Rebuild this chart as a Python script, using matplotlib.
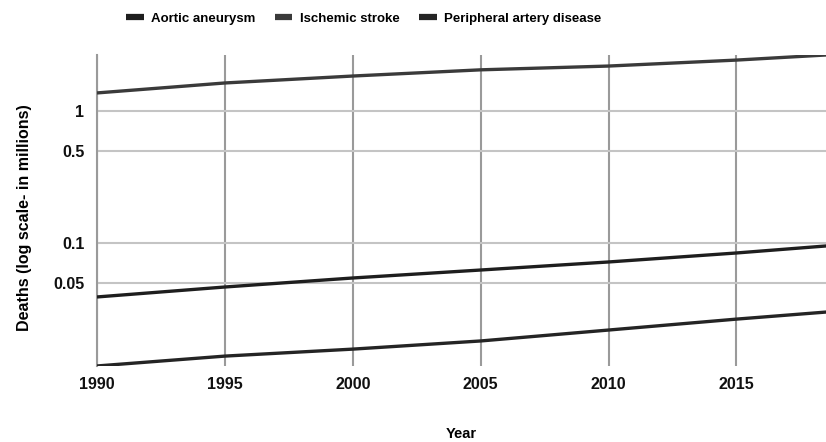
import numpy as np
import matplotlib.pyplot as plt
from matplotlib.ticker import FixedLocator, FixedFormatter, NullLocator

plt.rcParams['font.family'] = ['Liberation Sans', 'DejaVu Sans']

# deaths in millions
years = [1990, 1995, 2000, 2005, 2010, 2015, 2019]
aortic_aneurysm = [0.039, 0.0464, 0.0543, 0.0624, 0.0718, 0.084, 0.0966]
ischemic_stroke = [1.37, 1.63, 1.84, 2.05, 2.19, 2.43, 2.69]
peripheral_artery = [0.0117, 0.0139, 0.0157, 0.0181, 0.0219, 0.0265, 0.0305]

series_names = ['Aortic aneurysm', 'Ischemic stroke', 'Peripheral artery disease']
series_values = [aortic_aneurysm, ischemic_stroke, peripheral_artery]
series_colors = ['#1e1e1e', '#3a3a3a', '#242424']

x_ticks = [1990, 1995, 2000, 2005, 2010, 2015]
y_ticks = [0.05, 0.1, 0.5, 1]
y_tick_labels = ['0.05', '0.1', '0.5', '1']

fig = plt.figure(figsize=(8.26, 4.42), dpi=100)
ax = fig.add_axes([0.1174, 0.172, 0.8826, 0.7036])

for name, vals, col in zip(series_names, series_values, series_colors):
    ax.plot(years, vals, color=col, lw=2.4, label=name, solid_capstyle='butt', zorder=3)

ax.set_yscale('log')
ax.set_xlim(1990, 2018.5)
ax.set_ylim(0.0117, 2.656)

ax.xaxis.set_major_locator(FixedLocator(x_ticks))
ax.yaxis.set_major_locator(FixedLocator(y_ticks))
ax.yaxis.set_major_formatter(FixedFormatter(y_tick_labels))
ax.yaxis.set_minor_locator(NullLocator())

ax.grid(True, axis='x', color='#9a9a9a', lw=1.5)
ax.grid(True, axis='y', color='#c4c4c4', lw=1.5)
ax.set_axisbelow(True)

for s in ['top', 'right', 'bottom']:
    ax.spines[s].set_visible(False)
ax.spines['left'].set_color('#9a9a9a')
ax.spines['left'].set_linewidth(1.5)

ax.tick_params(length=0, labelsize=11.5, pad=8)
ax.tick_params(axis='y', pad=9)
for lab in ax.get_xticklabels() + ax.get_yticklabels():
    lab.set_fontweight('bold')
    lab.set_color('#111111')

ax.set_xlabel('Year', fontsize=10.5, fontweight='bold', labelpad=25)
ax.set_ylabel('Deaths (log scale- in millions)', fontsize=11.5, fontweight='bold')
ax.yaxis.set_label_coords(-0.089, 0.476)

leg = fig.legend(loc='center', bbox_to_anchor=(0.44, 0.958), ncol=3, frameon=False,
                 fontsize=9.5, handlelength=1.36, handletextpad=0.55, columnspacing=1.45)
for line in leg.get_lines():
    line.set_linewidth(4.5)
for t in leg.get_texts():
    t.set_fontweight('bold')

fig.savefig('out.png', dpi=100)
